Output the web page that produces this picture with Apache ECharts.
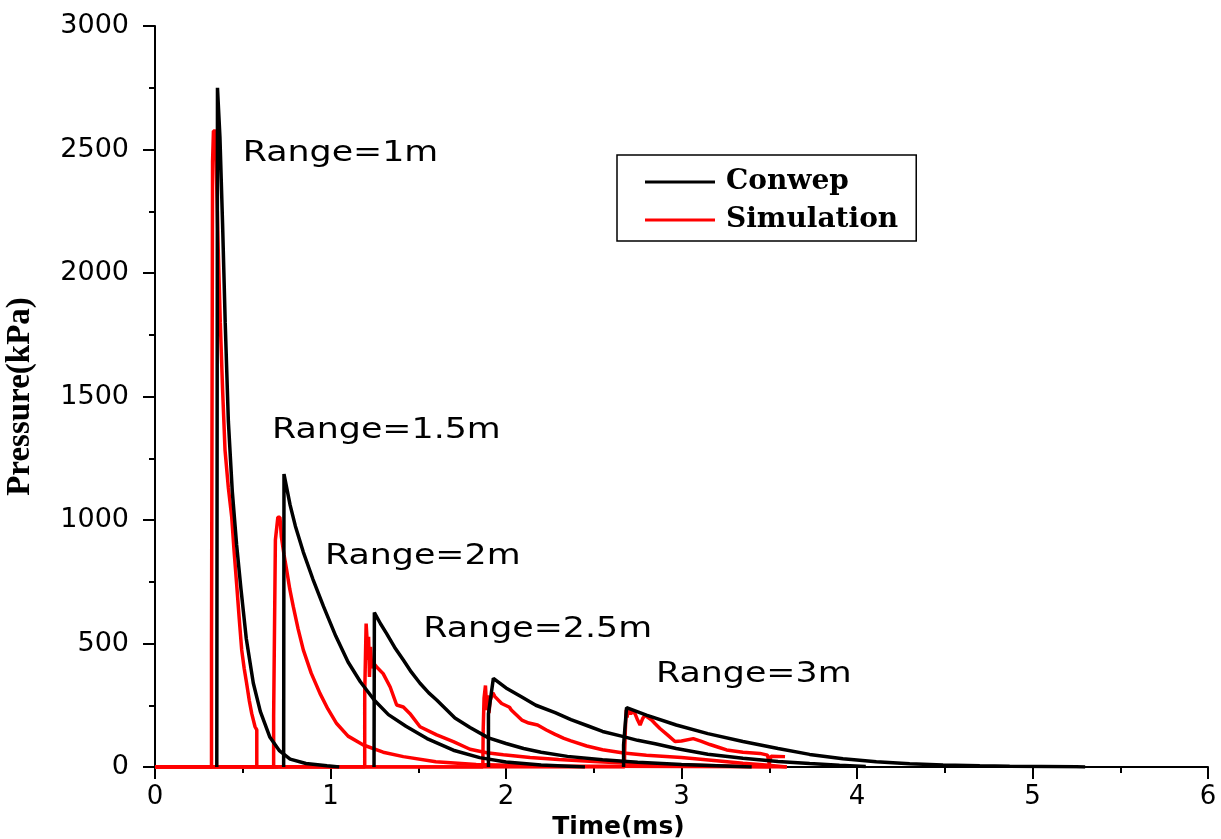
<!DOCTYPE html>
<html>
<head>
<meta charset="utf-8">
<script src="https://cdn.jsdelivr.net/npm/echarts@6/dist/echarts.min.js"></script>
<style>
html,body{margin:0;padding:0;background:#fff;}
#chart{width:1221px;height:839px;}
</style>
</head>
<body>
<div id="chart"></div>
<script>
// ---- data: [time (ms), pressure (kPa)] ----
const conwep1m = [[0.352,0],[0.356,2750],[0.37,2550],[0.385,2200],[0.40,1800],[0.418,1400],[0.44,1120],[0.465,900],[0.49,720],[0.52,520],[0.56,340],[0.60,225],[0.655,120],[0.71,65],[0.77,32],[0.86,14],[0.98,5],[1.05,0]];
const conwep15m = [[0.733,0],[0.735,1186],[0.77,1060],[0.80,975],[0.845,870],[0.90,760],[0.96,650],[1.03,530],[1.10,425],[1.17,345],[1.25,270],[1.33,212],[1.43,165],[1.55,115],[1.70,68],[1.85,38],[2.0,20],[2.2,8],[2.45,0]];
const conwep2m = [[1.248,0],[1.25,625],[1.285,580],[1.319,541],[1.365,485],[1.415,433],[1.46,385],[1.51,339],[1.56,300],[1.605,271],[1.709,198],[1.795,160],[1.9,118],[2.0,95],[2.1,75],[2.2,60],[2.35,43],[2.55,29],[2.75,19],[3.0,10],[3.2,5],[3.4,0]];
const conwep25m = [[1.9,0],[1.9,216],[1.928,359],[2.0,320],[2.09,283],[2.17,250],[2.28,220],[2.37,192],[2.468,166],[2.55,144],[2.658,125],[2.75,108],[2.85,94],[2.97,75],[3.15,52],[3.35,35],[3.55,22],[3.73,14],[3.9,7],[4.05,2]];
const conwep3m = [[2.67,0],[2.67,90],[2.687,240],[2.8,210],[2.97,170],[3.15,135],[3.35,103],[3.55,75],[3.73,51],[3.92,33],[4.11,21],[4.3,13],[4.49,8],[4.7,5],[4.87,3],[5.05,2],[5.25,1],[5.3,0]];

const sim1m = [[0,0],[0.322,0],[0.322,487],[0.328,487],[0.328,2450],[0.333,2450],[0.333,2575],[0.345,2575],[0.35,2400],[0.36,2100],[0.372,1800],[0.385,1530],[0.399,1283],[0.418,1130],[0.437,1013],[0.45,880],[0.465,742],[0.48,600],[0.494,474],[0.508,400],[0.522,339],[0.537,270],[0.551,217],[0.57,163],[0.58,150],[0.58,0],[0.7,0]];
const sim15m = [[0,0],[0.676,0],[0.676,204],[0.686,204],[0.686,919],[0.697,919],[0.70,1011],[0.712,1011],[0.72,932],[0.735,860],[0.75,798],[0.768,720],[0.788,649],[0.815,560],[0.845,474],[0.89,380],[0.94,298],[0.985,235],[1.035,176],[1.1,125],[1.187,89],[1.3,60],[1.415,42],[1.6,21],[1.83,10],[2.2,4],[3.6,0]];
const sim2m = [[0,0],[1.195,0],[1.195,300],[1.2,300],[1.203,581],[1.208,520],[1.212,433],[1.217,527],[1.222,365],[1.228,486],[1.235,400],[1.245,420],[1.263,405],[1.3,378],[1.34,324],[1.377,251],[1.415,243],[1.453,216],[1.51,163],[1.605,130],[1.7,103],[1.795,72],[1.89,58],[1.985,50],[2.137,38],[2.3,30],[2.5,22],[2.67,16],[2.9,10],[3.2,5],[3.5,0]];
const sim25m = [[0,0],[1.868,0],[1.87,150],[1.875,280],[1.883,330],[1.888,260],[1.893,231],[1.897,290],[1.903,218],[1.91,270],[1.925,300],[1.937,285],[1.947,282],[1.975,257],[2.02,242],[2.03,231],[2.09,190],[2.13,178],[2.18,170],[2.23,150],[2.28,132],[2.33,116],[2.37,106],[2.46,85],[2.55,70],[2.67,57],[2.8,48],[3.0,38],[3.2,25],[3.35,15],[3.48,8],[3.6,0]];
const sim3m = [[0,0],[2.675,0],[2.676,60],[2.68,150],[2.685,231],[2.69,200],[2.695,233],[2.71,215],[2.72,225],[2.735,216],[2.75,190],[2.764,170],[2.778,195],[2.792,210],[2.81,200],[2.83,190],[2.85,175],[2.877,156],[2.92,130],[2.963,103],[3.0,105],[3.067,115],[3.11,105],[3.162,91],[3.21,80],[3.257,69],[3.35,60],[3.447,55],[3.49,48],[3.50,12],[3.51,44],[3.59,42]];

const legendNames = ['Conwep', 'Simulation'];
const xTicks = { min: 0, max: 6, interval: 1 };
const yTicks = { min: 0, max: 3000, interval: 500 };
// annotation labels: [time, pressure, text]
const annotations = [[0.50, 2482, 'Range=1m'], [0.667, 1364, 'Range=1.5m'], [0.969, 854, 'Range=2m'], [1.529, 557, 'Range=2.5m'], [2.855, 376, 'Range=3m']];

const simSets = [sim1m, sim15m, sim2m, sim25m, sim3m];
const conSets = [conwep1m, conwep15m, conwep2m, conwep25m, conwep3m];

function lineSeries(name, data, color) {
  return {
    name: name, type: 'line', data: data, symbol: 'none', showSymbol: false,
    lineStyle: { color: color, width: 3.5 }, itemStyle: { color: color },
    animation: false, silent: true, clip: true
  };
}

const series = [];
simSets.forEach(d => series.push(lineSeries(legendNames[1], d, '#ff0000')));
conSets.forEach(d => series.push(lineSeries(legendNames[0], d, '#000000')));

const chart = echarts.init(document.getElementById('chart'), null, { renderer: 'canvas' });
chart.setOption({
  animation: false,
  backgroundColor: '#ffffff',
  grid: { left: 155, right: 13, top: 26, bottom: 72, containLabel: false, outerBoundsMode: 'none' },
  legend: {
    data: legendNames, orient: 'vertical', left: 617, top: 155,
    padding: [11, 18, 5, 28], itemGap: 6, itemWidth: 70, itemHeight: 3, icon: 'rect',
    borderColor: '#000', borderWidth: 1.5, backgroundColor: '#fff',
    textStyle: { fontFamily: 'DejaVu Serif', fontWeight: 'bold', fontSize: 28, color: '#000', lineHeight: 32, padding: [0, 0, 0, 6] }
  },
  xAxis: {
    type: 'value', min: xTicks.min, max: xTicks.max, interval: xTicks.interval,
    name: 'Time(ms)', nameLocation: 'middle', nameGap: 35,
    nameTextStyle: { fontFamily: 'DejaVu Sans', fontWeight: 'bold', fontSize: 25, color: '#000', padding: [0, 126, 0, 0] },
    axisLine: { show: true, onZero: false, lineStyle: { color: '#000', width: 2 } },
    axisTick: { show: true, inside: false, length: 12, lineStyle: { color: '#000', width: 2 } },
    minorTick: { show: true, splitNumber: 2, length: 6, lineStyle: { color: '#000', width: 2 } },
    axisLabel: { fontFamily: 'DejaVu Sans', fontSize: 26, color: '#000', margin: 17 },
    splitLine: { show: false }
  },
  yAxis: {
    type: 'value', min: yTicks.min, max: yTicks.max, interval: yTicks.interval,
    name: 'Pressure(kPa)', nameLocation: 'middle', nameGap: 118, nameRotate: 90,
    nameTextStyle: { fontFamily: 'Liberation Serif', fontWeight: 'bold', fontSize: 33, color: '#000' },
    axisLine: { show: true, lineStyle: { color: '#000', width: 2 } },
    axisTick: { show: true, inside: false, length: 12, lineStyle: { color: '#000', width: 2 } },
    minorTick: { show: true, splitNumber: 2, length: 6, lineStyle: { color: '#000', width: 2 } },
    axisLabel: { fontFamily: 'DejaVu Sans', fontSize: 27, color: '#000', margin: 26, formatter: v => String(v) },
    splitLine: { show: false }
  },
  series: series
});

// Range annotations placed via the chart's own coordinate conversion
const graphics = annotations.map(a => {
  const p = chart.convertToPixel({ gridIndex: 0 }, [a[0], a[1]]);
  return {
    type: 'text', x: p[0], y: p[1], scaleX: 1.2, scaleY: 1, silent: true, z: 10,
    style: { text: a[2], fontFamily: 'DejaVu Sans', fontSize: 29, fill: '#000', textAlign: 'left', textVerticalAlign: 'middle' }
  };
});
chart.setOption({ graphic: graphics });
</script>
</body>
</html>
